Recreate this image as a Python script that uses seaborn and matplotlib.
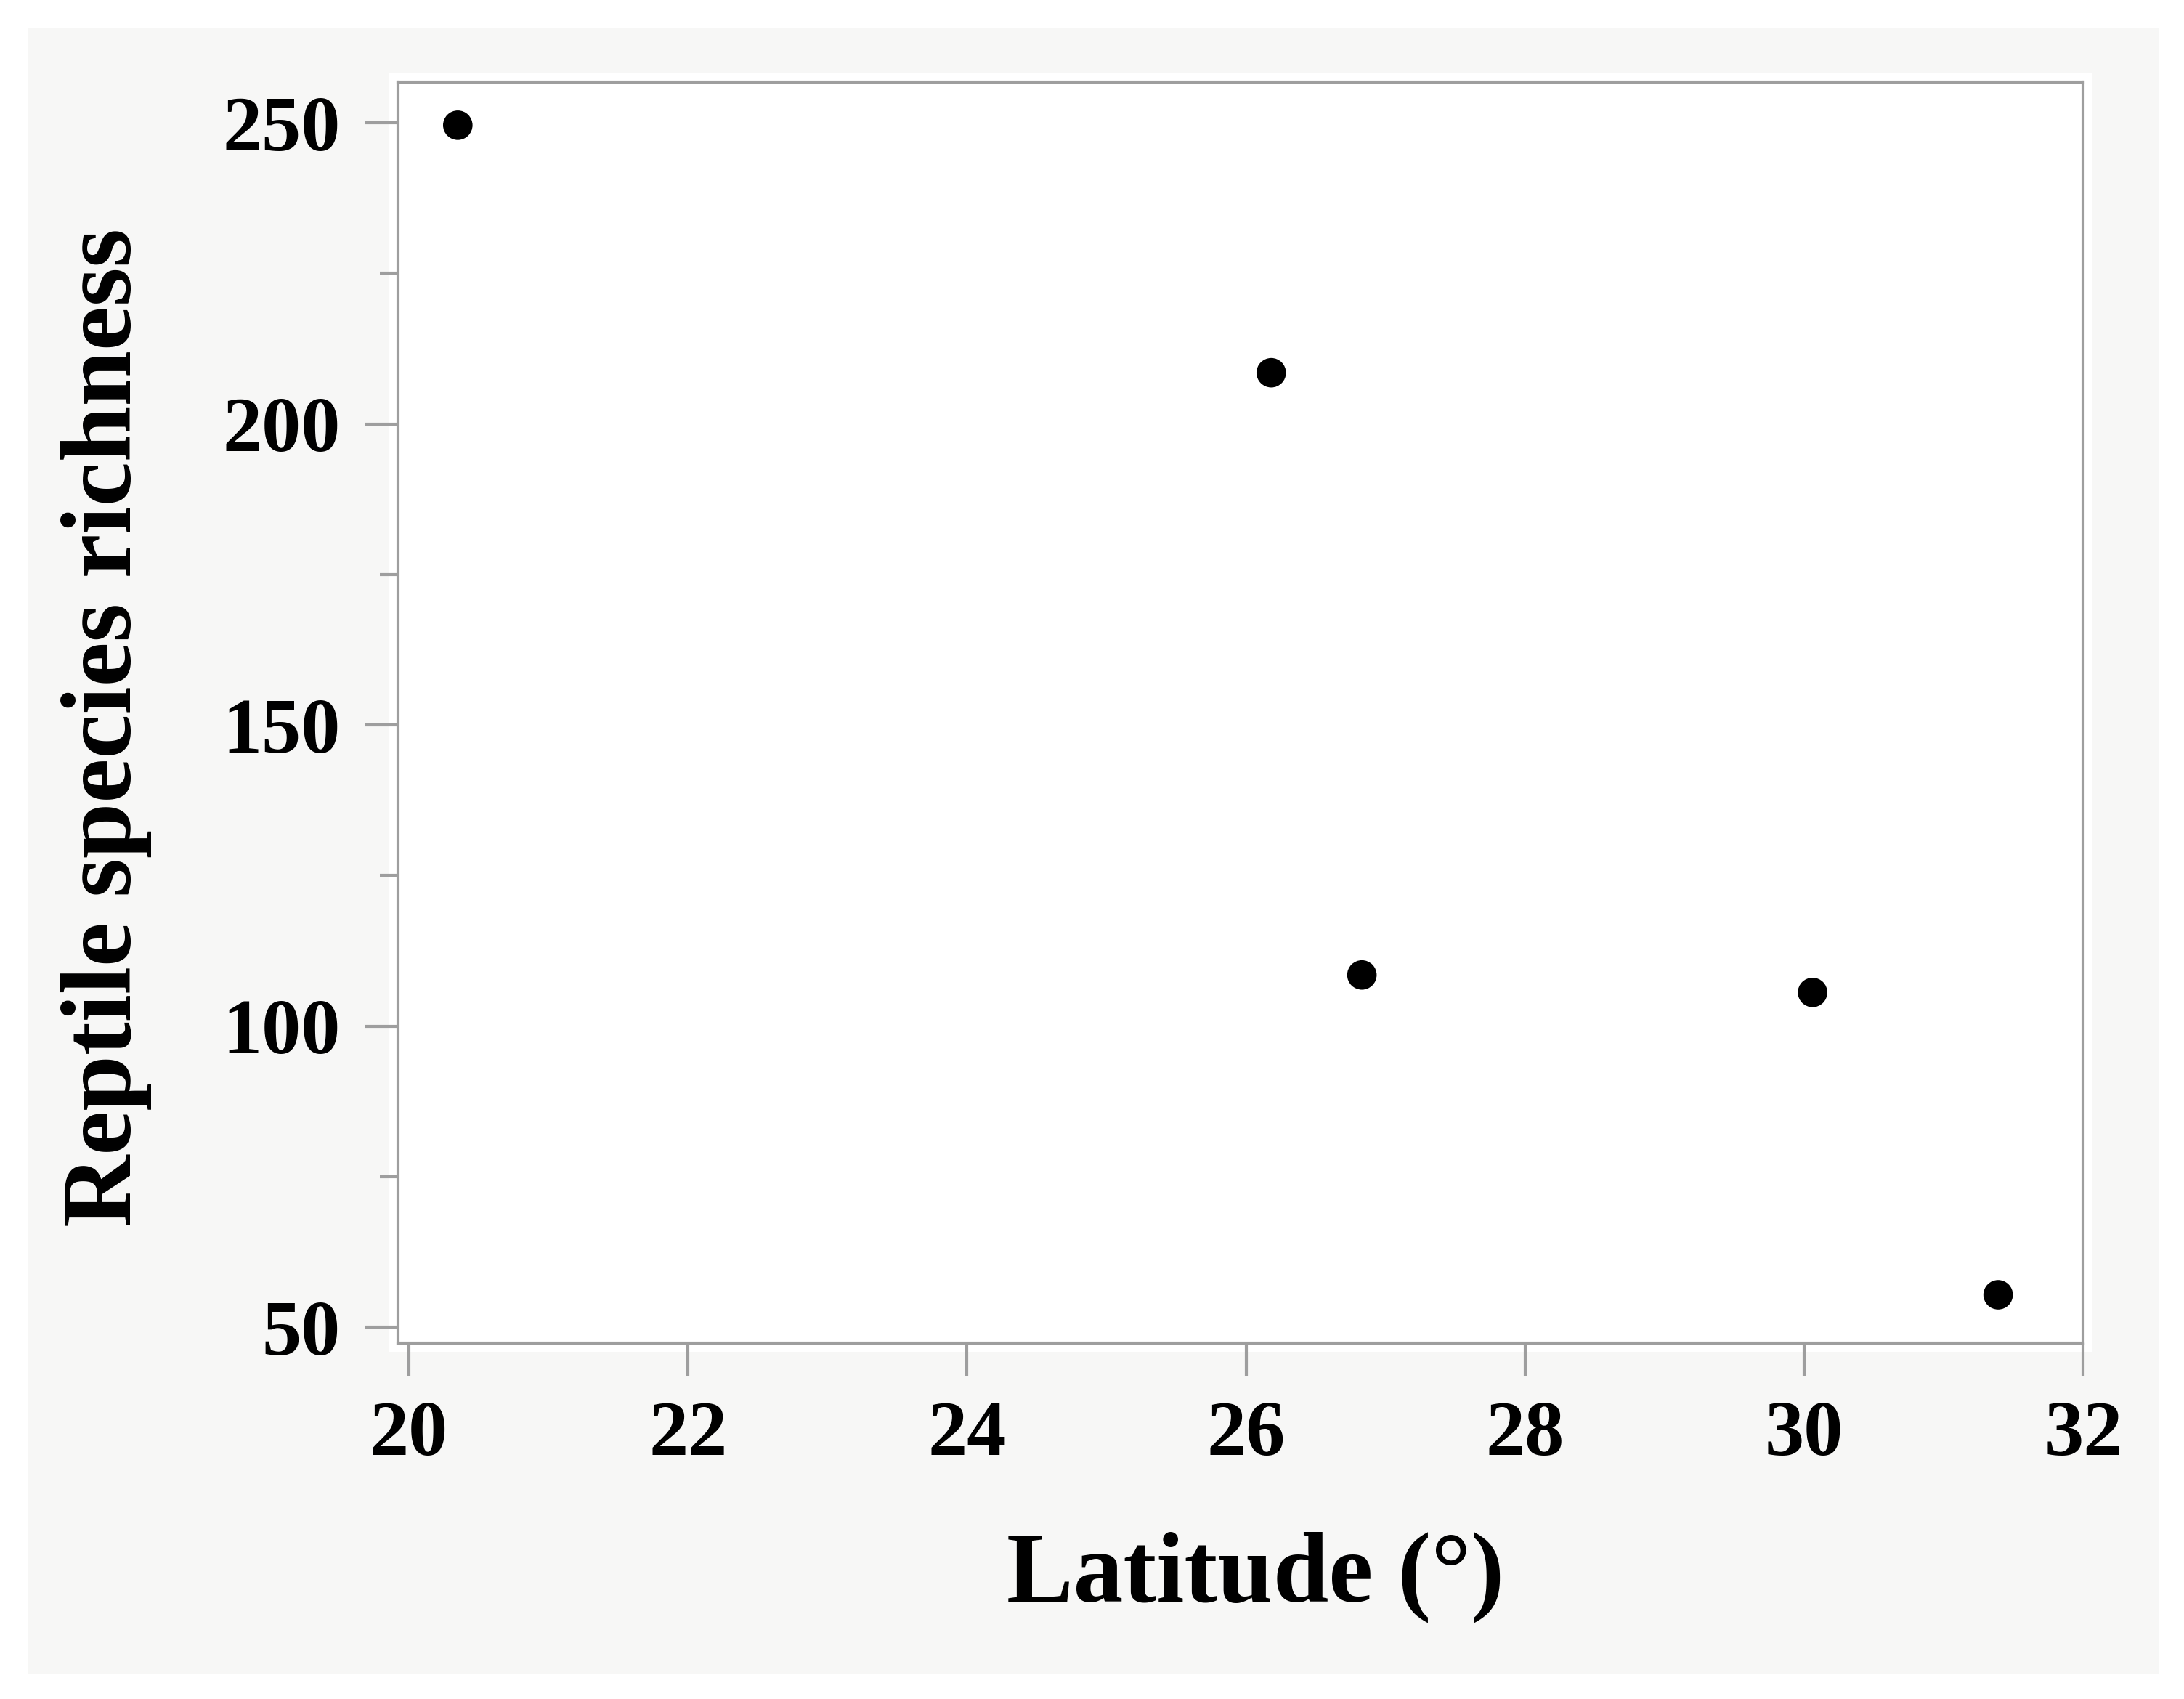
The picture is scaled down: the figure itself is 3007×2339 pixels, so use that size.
import matplotlib
matplotlib.use("Agg")
import matplotlib.pyplot as plt
from matplotlib.patches import Rectangle
from matplotlib.ticker import MultipleLocator
import seaborn as sns
import pandas as pd

# Data
latitude = [20.35, 26.18, 26.83, 30.06, 31.39]
richness = [249.6, 208.5, 108.5, 105.6, 55.4]
x_ticks = [20, 22, 24, 26, 28, 30, 32]
y_ticks = [50, 100, 150, 200, 250]
x_label = "Latitude (°)"
y_label = "Reptile species richness"

df = pd.DataFrame({"lat": latitude, "rich": richness})

sns.set_theme(style="ticks")
plt.rcParams["font.family"] = ["Liberation Serif", "DejaVu Serif"]
plt.rcParams["font.weight"] = "bold"

W, H = 3007, 2339
DPI = 300
fig = plt.figure(figsize=(W / DPI, H / DPI), dpi=DPI, facecolor="white")

# light grey panel background
fig.patches.append(Rectangle((38 / W, 1 - 2305 / H), (2972 - 38) / W, (2305 - 38) / H,
                             transform=fig.transFigure, facecolor="#f7f7f6",
                             edgecolor="none", zorder=-2))

left, right = 547.7 / W, 2868.3 / W
top, bottom = 1 - 112.7 / H, 1 - 1848.5 / H
# white halo around plot frame
pad = 12
fig.patches.append(Rectangle((left - pad / W, bottom - pad / H),
                             right - left + 2 * pad / W, top - bottom + 2 * pad / H,
                             transform=fig.transFigure, facecolor="white",
                             edgecolor="none", zorder=-1))

ax = fig.add_axes([left, bottom, right - left, top - bottom])
ax.set_zorder(2)
ax.set_facecolor("white")

sns.scatterplot(data=df, x="lat", y="rich", ax=ax, color="black", s=95,
                edgecolor="none", linewidth=0, zorder=3)

ax.set_xlim(19.92, 32.0)
ax.set_ylim(47.44, 256.8)
ax.set_xticks(x_ticks)
ax.set_yticks(y_ticks)
ax.yaxis.set_minor_locator(MultipleLocator(25))

spine_col = "#9e9e9e"
for s in ax.spines.values():
    s.set_visible(True)
    s.set_color(spine_col)
    s.set_linewidth(1.0)

ax.tick_params(axis="both", which="major", direction="out", length=11, width=1.0,
               color=spine_col, pad=8, labelsize=26, labelcolor="black")
ax.tick_params(axis="y", which="minor", direction="out", length=6, width=1.0,
               color=spine_col)
for lab in ax.get_xticklabels() + ax.get_yticklabels():
    lab.set_fontweight("bold")

ax.set_xlabel(x_label, fontsize=33, fontweight="bold", color="black")
ax.set_ylabel(y_label, fontsize=33, fontweight="bold", color="black")
ax.xaxis.label.set_va("center")
ax.yaxis.label.set_va("center")
ax.xaxis.set_label_coords(0.509, -0.186)
ax.yaxis.set_label_coords(-0.173, 0.488)

fig.savefig("out.png", dpi=DPI, facecolor="white")
